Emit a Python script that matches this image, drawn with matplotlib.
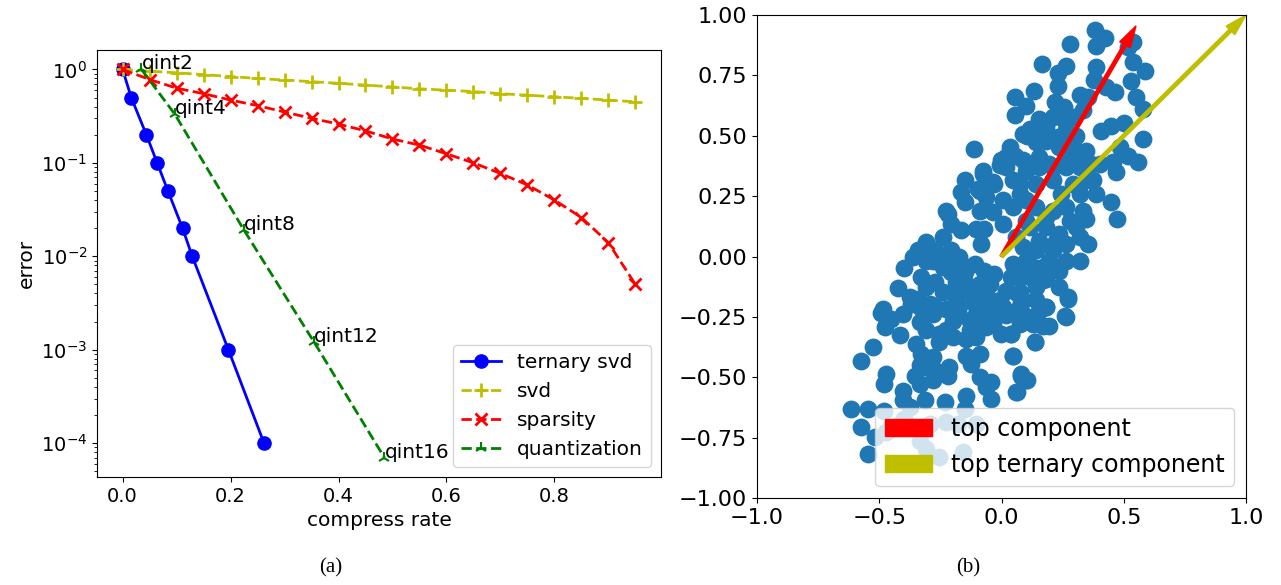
import numpy as np
import matplotlib
matplotlib.use('Agg')
import matplotlib.pyplot as plt

# ---- panel (a): error vs compress rate ----
tsvd_rate = [0.0, 0.016, 0.044, 0.064, 0.084, 0.111, 0.129, 0.196, 0.262]
tsvd_err = [1.0, 0.5, 0.2, 0.1, 0.05, 0.02, 0.01, 0.001, 0.0001]

step_rate = [0.0, 0.05, 0.10, 0.15, 0.20, 0.25, 0.30, 0.35, 0.40, 0.45,
             0.50, 0.55, 0.60, 0.65, 0.70, 0.75, 0.80, 0.85, 0.90, 0.95]
svd_err = [1.0, 0.96, 0.92, 0.88, 0.84, 0.80, 0.77, 0.74, 0.71, 0.68,
           0.65, 0.62, 0.60, 0.58, 0.55, 0.53, 0.51, 0.49, 0.47, 0.45]
sparse_err = [1.0, 0.78, 0.63, 0.55, 0.47, 0.41, 0.35, 0.30, 0.26, 0.22,
              0.18, 0.155, 0.125, 0.10, 0.077, 0.058, 0.040, 0.026, 0.014, 0.005]

quant_rate = [0.035, 0.097, 0.225, 0.355, 0.485]
quant_err = [1.0, 0.33, 0.019, 0.0012, 0.00007]
quant_lbl = ['qint2', 'qint4', 'qint8', 'qint12', 'qint16']

# ---- panel (b): scatter + components ----
pts = [
    (0.383, 0.936), (0.424, 0.906), (0.387, 0.870), (0.278, 0.881), (0.517, 0.867),
    (0.536, 0.887), (0.166, 0.798), (0.265, 0.787), (0.230, 0.759), (0.387, 0.784),
    (0.537, 0.805), (0.585, 0.767), (0.230, 0.708), (0.380, 0.729), (0.428, 0.701),
    (0.466, 0.680), (0.528, 0.726), (0.551, 0.660), (0.578, 0.612), (0.131, 0.687),
    (0.056, 0.660), (0.098, 0.625), (0.057, 0.588), (0.319, 0.667), (0.353, 0.660),
    (0.217, 0.639), (0.254, 0.621), (0.333, 0.607), (0.155, 0.570), (0.210, 0.577),
    (0.258, 0.563), (0.115, 0.529), (0.104, 0.501), (0.142, 0.473), (0.230, 0.494),
    (0.305, 0.501), (0.408, 0.519), (0.449, 0.542), (0.499, 0.552), (0.578, 0.487),
    (0.237, 0.453), (0.278, 0.467), (-0.113, 0.446), (0.033, 0.453), (0.053, 0.418),
    (-0.001, 0.398), (-0.076, 0.356), (0.299, 0.411), (0.367, 0.384), (0.455, 0.391),
    (0.483, 0.453), (0.517, 0.418), (0.558, 0.391), (0.115, 0.370), (0.196, 0.384),
    (0.087, 0.508), (0.183, 0.535), (0.265, 0.522), (0.292, 0.577), (0.210, 0.370),
    (0.319, 0.370),
    (0.000, 0.377), (-0.076, 0.342), (-0.151, 0.315), (-0.029, 0.301), (-0.165, 0.266),
    (-0.097, 0.280), (-0.151, 0.225), (-0.063, 0.246), (0.005, 0.232), (-0.090, 0.190),
    (-0.036, 0.183), (-0.220, 0.177), (-0.206, 0.135), (-0.165, 0.108), (-0.103, 0.115),
    (-0.070, 0.115), (0.005, 0.135), (-0.083, 0.053), (-0.240, 0.080), (-0.308, 0.059),
    (-0.342, 0.025), (-0.274, 0.025), (-0.206, 0.025), (-0.172, -0.003), (-0.308, -0.017),
    (-0.397, -0.047), (-0.240, -0.044), (-0.328, -0.086), (-0.274, -0.106), (-0.206, -0.065),
    (-0.151, -0.065), (-0.110, -0.030), (-0.070, -0.058), (-0.029, -0.072), (-0.151, -0.106),
    (-0.090, -0.113), (-0.424, -0.130), (-0.376, -0.168), (-0.342, -0.175), (-0.185, -0.168),
    (-0.063, -0.155), (-0.485, -0.217), (-0.274, -0.210), (-0.226, -0.217),
    (0.046, 0.204), (0.074, 0.260), (0.046, 0.315), (0.101, 0.356), (0.155, 0.370),
    (0.210, 0.315), (0.265, 0.370), (0.319, 0.377), (0.373, 0.315), (0.387, 0.260),
    (0.319, 0.260), (0.265, 0.204), (0.333, 0.190), (0.346, 0.156), (0.278, 0.149),
    (0.210, 0.190), (0.142, 0.204), (0.115, 0.121), (0.183, 0.121), (0.237, 0.094),
    (0.265, 0.053), (0.210, 0.025), (0.142, 0.025), (0.087, 0.039), (0.060, 0.080),
    (0.353, 0.053), (0.319, -0.017), (0.237, -0.058), (0.169, -0.044), (0.101, -0.017),
    (0.046, -0.030), (0.040, -0.086), (0.115, -0.086), (0.183, -0.092), (0.019, -0.141),
    (0.074, -0.148), (0.142, -0.182), (0.183, -0.210), (0.271, -0.168), (0.469, 0.349),
    (0.449, 0.225), (0.473, 0.156), (0.401, 0.384), (0.244, 0.260),
    (0.019, 0.411), (-0.008, 0.377), (-0.036, 0.308), (-0.090, 0.273), (-0.226, 0.190),
    (-0.369, -0.196), (-0.492, -0.235), (-0.451, -0.258), (-0.478, -0.293), (-0.417, -0.327),
    (-0.335, -0.272), (-0.281, -0.237), (-0.220, -0.217), (-0.172, -0.244), (-0.103, -0.237),
    (-0.049, -0.244), (0.019, -0.244), (0.087, -0.237), (0.155, -0.224), (0.196, -0.286),
    (0.265, -0.251), (-0.308, -0.306), (-0.226, -0.306), (-0.131, -0.306), (-0.063, -0.293),
    (-0.001, -0.320), (0.040, -0.320), (0.135, -0.355), (-0.254, -0.355), (-0.144, -0.341),
    (-0.526, -0.376), (-0.574, -0.431), (-0.328, -0.403), (-0.281, -0.417), (-0.144, -0.410),
    (-0.090, -0.403), (-0.124, -0.444), (0.046, -0.410), (-0.335, -0.451), (-0.267, -0.472),
    (-0.213, -0.458), (-0.220, -0.493), (-0.356, -0.493), (-0.472, -0.486), (-0.479, -0.527),
    (-0.090, -0.500), (-0.042, -0.520), (-0.063, -0.541), (0.081, -0.486), (0.101, -0.513),
    (0.060, -0.562), (-0.042, -0.589), (-0.144, -0.576), (-0.233, -0.603), (-0.315, -0.596),
    (-0.404, -0.555), (-0.404, -0.596), (-0.376, -0.624), (-0.615, -0.631), (-0.547, -0.631),
    (-0.479, -0.638), (-0.574, -0.707), (-0.151, -0.631),
    (-0.519, -0.748), (-0.547, -0.817), (-0.472, -0.727), (-0.397, -0.672), (-0.294, -0.693),
    (-0.226, -0.686), (-0.179, -0.693), (-0.103, -0.693), (-0.335, -0.762), (-0.254, -0.831),
    (-0.158, -0.810), (-0.308, -0.796),
    (0.271, -0.175), (0.260, -0.248), (0.183, -0.210), (0.169, -0.286), (0.115, -0.258),
    (0.135, -0.355), (0.040, -0.320), (0.046, -0.410), (0.081, -0.493), (0.104, -0.513),
    (0.063, -0.562), (0.067, -0.155), (0.019, -0.224), (0.169, -0.099),
    (-0.363, -0.003), (-0.281, -0.017), (-0.226, -0.017), (-0.144, -0.044), (-0.185, -0.106),
    (-0.308, -0.127), (-0.240, -0.148), (-0.131, -0.141), (-0.049, -0.113), (-0.008, -0.182),
    (-0.117, -0.189), (-0.335, -0.210),
    (0.155, 0.066), (0.224, 0.066), (0.305, 0.121), (0.196, -0.017), (0.265, -0.017),
    (0.128, -0.044), (0.074, -0.086), (0.142, -0.127), (0.087, -0.182), (0.237, -0.127),
    (0.319, 0.080), (0.101, 0.149), (0.183, 0.163), (0.346, 0.315), (0.292, 0.301),
    (0.142, 0.301), (0.074, 0.301), (0.101, 0.232),
    (-0.349, -0.362), (-0.308, -0.458), (-0.281, -0.513), (-0.335, -0.527), (-0.254, -0.320),
    (-0.199, -0.334), (-0.199, -0.265), (-0.131, -0.265), (-0.036, -0.279), (0.074, -0.279),
    (0.128, -0.279), (-0.103, -0.334), (0.005, -0.210), (0.074, -0.203), (-0.063, -0.203),
    (-0.172, -0.203), (-0.294, -0.196), (-0.404, -0.237),
    (0.128, 0.522), (0.183, 0.480), (0.292, 0.453), (0.155, 0.411), (0.265, 0.398),
    (0.346, 0.439), (0.087, 0.398), (0.019, 0.370),
]
scatter_x = [p[0] for p in pts]
scatter_y = [p[1] for p in pts]

top_comp = (0.55, 0.955)
top_ternary = (1.0, 1.0)

fig = plt.figure(figsize=(12.81, 5.85), dpi=100)

# panel (a)
ax = fig.add_axes([0.0757, 0.1846, 0.4403, 0.7299])
ax.plot(tsvd_rate, tsvd_err, 'b-o', lw=2, ms=9.5, label='ternary svd')
ax.plot(step_rate, svd_err, 'y--+', lw=2, ms=10, mew=2, label='svd')
ax.plot(step_rate, sparse_err, 'r--x', lw=2, ms=9, mew=2, label='sparsity')
ax.plot(quant_rate, quant_err, 'g--2', lw=2, ms=9, mew=1.5, label='quantization')
for xr, er, lb in zip(quant_rate, quant_err, quant_lbl):
    ax.text(xr, er, lb, fontsize=14.5)
ax.set_yscale('log')
ax.set_xlabel('compress rate', fontsize=14.5)
ax.set_ylabel('error', fontsize=14.5)
ax.tick_params(labelsize=14)
ax.legend(loc='lower right', fontsize=14.5)

# panel (b)
ax2 = fig.add_axes([0.591, 0.1487, 0.3817, 0.8256])
ax2.scatter(scatter_x, scatter_y, s=140, color='tab:blue')
ax2.arrow(0, 0, top_comp[0], top_comp[1], width=0.014, head_width=0.05,
          head_length=0.09, length_includes_head=True, color='r',
          label='top component')
ax2.arrow(0, 0, top_ternary[0], top_ternary[1], width=0.014, head_width=0.05,
          head_length=0.09, length_includes_head=True, color='y',
          label='top ternary component')
ax2.set_xlim(-1, 1)
ax2.set_ylim(-1, 1)
ax2.set_xticks([-1.0, -0.5, 0.0, 0.5, 1.0])
ax2.set_yticks(np.arange(-1.0, 1.01, 0.25))
ax2.tick_params(labelsize=16)
ax2.legend(loc='lower right', fontsize=17)

fig.text(0.258, 0.022, '(a)', fontsize=15, family='Liberation Serif', ha='center')
fig.text(0.756, 0.022, '(b)', fontsize=15, family='Liberation Serif', ha='center')

fig.savefig('out.png', dpi=100)
